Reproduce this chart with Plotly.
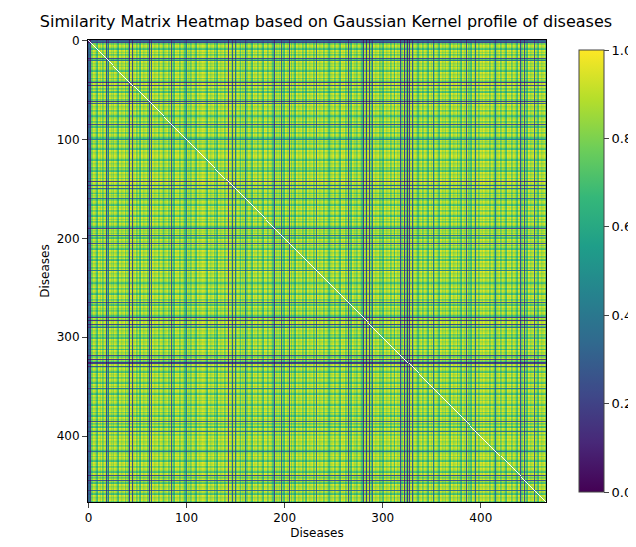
import numpy as np
import plotly.graph_objects as go

n_diseases = 467
# per-disease profile "distance" levels, read approximately from stripe texture
base_levels = [0.08, 0.02, 0.15, 0.05, 0.25, 0.01, 0.12, 0.06, 0.20, 0.03, 0.10, 0.30, 0.04]
# diseases whose rows/columns appear dark (low similarity), with their level
dark_idx = [0, 1, 2, 18, 20, 42, 45, 62, 64, 85, 100, 143, 147, 150, 160, 190, 197, 205,
            232, 265, 280, 283, 287, 290, 318, 322, 325, 327, 330, 352, 385, 395, 415, 440, 445, 455]
dark_lvl = [1.2, 0.9, 1.5, 1.3, 0.8, 1.6, 1.4, 1.5, 1.0, 1.2, 0.7, 1.4, 1.1, 0.9, 0.8, 1.3, 0.9, 1.2,
            0.7, 1.1, 1.5, 1.6, 1.4, 0.9, 1.3, 1.6, 1.7, 1.5, 1.2, 0.8, 1.1, 0.9, 0.8, 1.3, 1.2, 0.9]

d = np.array([base_levels[(i * 7 + i // 13) % len(base_levels)] for i in range(n_diseases)])
for k, v in zip(dark_idx, dark_lvl):
    d[k] = v
sim = np.exp(-(d[:, None] + d[None, :]))
np.fill_diagonal(sim, np.nan)

fig = go.Figure(go.Heatmap(
    z=sim, colorscale="Viridis", zmin=0, zmax=1, hoverongaps=False,
    colorbar=dict(x=0.885, xanchor="left", thickness=25, len=1, y=0.5, yanchor="middle",
                  tickvals=[0, 0.2, 0.4, 0.6, 0.8, 1.0], ticktext=["0.0", "0.2", "0.4", "0.6", "0.8", "1.0"],
                  outlinewidth=1, ticks="outside", tickfont=dict(size=13))
))
fig.update_layout(
    width=636, height=547, plot_bgcolor="white", paper_bgcolor="white",
    margin=dict(l=80, r=0, t=32, b=53),
    title=dict(text="Similarity Matrix Heatmap based on Gaussian Kernel profile of diseases",
               x=0.5, y=0.985, yanchor="top", font=dict(size=16, color="black")),
    font=dict(family="DejaVu Sans", size=12, color="black"),
)
fig.update_xaxes(domain=[0, 0.842], range=[-0.5, n_diseases - 0.5], title_text="Diseases",
                 tickvals=[0, 100, 200, 300, 400], ticks="outside", showline=True, linecolor="black",
                 mirror=True, showgrid=False, zeroline=False, title_standoff=4, title_font_size=12)
fig.update_yaxes(range=[n_diseases - 0.5, -0.5], title_text="Diseases",
                 tickvals=[0, 100, 200, 300, 400], ticks="outside", showline=True, linecolor="black",
                 mirror=True, showgrid=False, zeroline=False, title_standoff=4, title_font_size=12)
fig.write_html("out.html")
